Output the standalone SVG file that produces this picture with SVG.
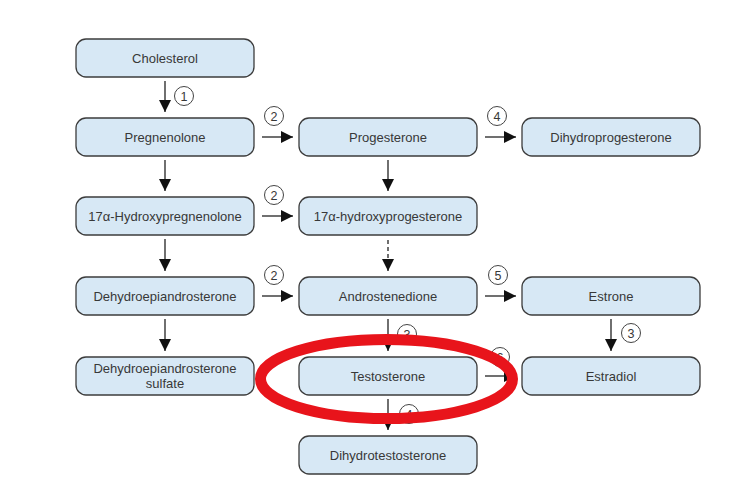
<svg xmlns="http://www.w3.org/2000/svg" width="748" height="490" viewBox="0 0 748 490">
<style>
.box{fill:#d7e8f5;stroke:#3c3c3c;stroke-width:1.3}
.t{font-family:"Liberation Sans",Arial,sans-serif;font-size:13px;fill:#383838;text-anchor:middle}
.ln{stroke:#222;stroke-width:1.3;fill:none}
.dash{stroke:#222;stroke-width:1.3;fill:none;stroke-dasharray:4,3}
.lc{fill:#fff;stroke:#444;stroke-width:1}
.lt{font-family:"Liberation Sans",Arial,sans-serif;font-size:12.5px;fill:#383838;text-anchor:middle}
</style>
<defs>
<marker id="ah" viewBox="0 0 12 12" refX="12" refY="6" markerWidth="12" markerHeight="12" markerUnits="userSpaceOnUse" orient="auto">
<path d="M0,0 L12,6 L0,12 Z" fill="#111"/>
</marker>
</defs>
<rect width="748" height="490" fill="#fff"/>
<g id="connectors">
<line class="ln" x1="165" y1="81" x2="165" y2="112" marker-end="url(#ah)"/>
<line class="ln" x1="165" y1="160" x2="165" y2="191" marker-end="url(#ah)"/>
<line class="ln" x1="165" y1="239" x2="165" y2="271" marker-end="url(#ah)"/>
<line class="ln" x1="165" y1="319" x2="165" y2="351" marker-end="url(#ah)"/>
<line class="ln" x1="388" y1="160" x2="388" y2="191" marker-end="url(#ah)"/>
<line class="dash" x1="388" y1="240" x2="388" y2="271" marker-end="url(#ah)"/>
<line class="ln" x1="388" y1="319" x2="388" y2="351" marker-end="url(#ah)"/>
<line class="ln" x1="388" y1="399" x2="388" y2="430" marker-end="url(#ah)"/>
<line class="ln" x1="611" y1="319" x2="611" y2="351" marker-end="url(#ah)"/>
<line class="ln" x1="262" y1="137" x2="293" y2="137" marker-end="url(#ah)"/>
<line class="ln" x1="262" y1="216" x2="293" y2="216" marker-end="url(#ah)"/>
<line class="ln" x1="262" y1="296" x2="293" y2="296" marker-end="url(#ah)"/>
<line class="ln" x1="485" y1="137" x2="516" y2="137" marker-end="url(#ah)"/>
<line class="ln" x1="485" y1="296" x2="516" y2="296" marker-end="url(#ah)"/>
<line class="ln" x1="485" y1="376" x2="516" y2="376" marker-end="url(#ah)"/>
</g>
<g id="labels">
<circle class="lc" cx="184" cy="96" r="9.5"/><text class="lt" x="184" y="100.5">1</text>
<circle class="lc" cx="274" cy="116" r="9.5"/><text class="lt" x="274" y="120.5">2</text>
<circle class="lc" cx="274" cy="195" r="9.5"/><text class="lt" x="274" y="199.5">2</text>
<circle class="lc" cx="274" cy="275" r="9.5"/><text class="lt" x="274" y="279.5">2</text>
<circle class="lc" cx="497" cy="116" r="9.5"/><text class="lt" x="497" y="120.5">4</text>
<circle class="lc" cx="498" cy="275" r="9.5"/><text class="lt" x="498" y="279.5">5</text>
<circle class="lc" cx="407" cy="334" r="9.5"/><text class="lt" x="407" y="338.5">3</text>
<circle class="lc" cx="631" cy="333" r="9.5"/><text class="lt" x="631" y="337.5">3</text>
<circle class="lc" cx="500" cy="357" r="9.5"/><text class="lt" x="500" y="361.5">6</text>
<circle class="lc" cx="409" cy="414" r="9.5"/><text class="lt" x="409" y="418.5">4</text>
</g>
<g id="cholesterol"><rect class="box" x="76" y="39" width="178" height="38" rx="10"/><text class="t" x="165" y="62.5">Cholesterol</text></g>
<g id="pregnenolone"><rect class="box" x="76" y="118" width="178" height="38" rx="10"/><text class="t" x="165" y="141.5">Pregnenolone</text></g>
<g id="progesterone"><rect class="box" x="299" y="118" width="178" height="38" rx="10"/><text class="t" x="388" y="141.5">Progesterone</text></g>
<g id="dihydroprogesterone"><rect class="box" x="522" y="118" width="178" height="38" rx="10"/><text class="t" x="611" y="141.5">Dihydroprogesterone</text></g>
<g id="hydroxypregnenolone"><rect class="box" x="76" y="197" width="178" height="38" rx="10"/><text class="t" x="165" y="220.5">17α-Hydroxypregnenolone</text></g>
<g id="hydroxyprogesterone"><rect class="box" x="299" y="197" width="178" height="38" rx="10"/><text class="t" x="388" y="220.5">17α-hydroxyprogesterone</text></g>
<g id="dhea"><rect class="box" x="76" y="277" width="178" height="38" rx="10"/><text class="t" x="165" y="300.5">Dehydroepiandrosterone</text></g>
<g id="androstenedione"><rect class="box" x="299" y="277" width="178" height="38" rx="10"/><text class="t" x="388" y="300.5">Androstenedione</text></g>
<g id="estrone"><rect class="box" x="522" y="277" width="178" height="38" rx="10"/><text class="t" x="611" y="300.5">Estrone</text></g>
<g id="dheas"><rect class="box" x="76" y="357" width="178" height="38" rx="10"/><text class="t" x="165" y="373">Dehydroepiandrosterone</text><text class="t" x="165" y="388">sulfate</text></g>
<g id="testosterone"><rect class="box" x="299" y="357" width="178" height="38" rx="10"/><text class="t" x="388" y="380.5">Testosterone</text></g>
<g id="estradiol"><rect class="box" x="522" y="357" width="178" height="38" rx="10"/><text class="t" x="611" y="380.5">Estradiol</text></g>
<g id="dihydrotestosterone"><rect class="box" x="299" y="436" width="178" height="38" rx="10"/><text class="t" x="388" y="459.5">Dihydrotestosterone</text></g>
<g id="highlight"><ellipse cx="386.5" cy="379" rx="126" ry="39.5" fill="none" stroke="#e8141b" stroke-width="11"/></g>
</svg>
